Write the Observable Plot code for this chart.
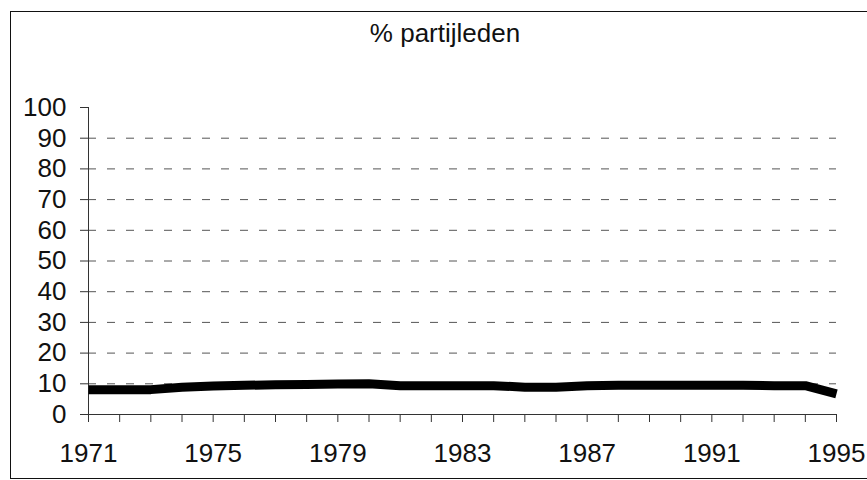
<!DOCTYPE html>
<html>
<head>
<meta charset="utf-8">
<script src="https://cdn.jsdelivr.net/npm/d3@7"></script>
<script src="https://cdn.jsdelivr.net/npm/@observablehq/plot@0.6"></script>
<style>
  html, body { margin: 0; padding: 0; background: #fff; }
  #wrap { position: relative; width: 867px; height: 480px; overflow: hidden; font-family: "Liberation Sans", Arial, sans-serif; }
  #frame { position: absolute; left: 10px; top: 11px; width: 860px; height: 468px; border: 1.5px solid #111; box-sizing: border-box; }
  #title { position: absolute; left: 0; top: 0; width: 890px; height: 50px; text-align: center; font-size: 26px; line-height: 66px; color: #111; }
  #chart { position: absolute; left: 0; top: 50px; }
</style>
</head>
<body>
<div id="wrap">
  <div id="frame"></div>
  <div id="title">% partijleden</div>
  <div id="chart"></div>
</div>
<script>
const years = [1971,1972,1973,1974,1975,1976,1977,1978,1979,1980,1981,1982,1983,1984,1985,1986,1987,1988,1989,1990,1991,1992,1993,1994,1995];
const values = [8.1,8.1,8.1,8.9,9.3,9.5,9.7,9.8,9.9,10.0,9.4,9.4,9.4,9.4,8.9,8.9,9.4,9.5,9.5,9.5,9.5,9.5,9.4,9.4,6.7];
const yTicks = [0,10,20,30,40,50,60,70,80,90,100];
const gridLevels = [10,20,30,40,50,60,70,80,90];
const labelYears = [1971,1975,1979,1983,1987,1991,1995];

const data = years.map((y, i) => ({year: y, value: values[i]}));

const chart = Plot.plot({
  width: 867,
  height: 430,
  marginLeft: 88,
  marginRight: 31,
  marginTop: 57,
  marginBottom: 66,
  style: {fontFamily: "'Liberation Sans', Arial, sans-serif", fontSize: "26px", color: "#111", background: "transparent"},
  x: {domain: [1971, 1995], label: null},
  y: {domain: [0, 100], label: null},
  marks: [
    Plot.ruleY(gridLevels, {x1: 1971, x2: 1995, stroke: "#555", strokeWidth: 1, strokeDasharray: "8,11"}),
    Plot.axisY(yTicks, {tickSize: 8, tickPadding: 14, tickFormat: d => String(d), stroke: "#333", fontSize: 26, label: null}),
    Plot.axisX(years, {tickSize: 8, tickPadding: 21, tickFormat: d => labelYears.includes(d) ? String(d) : "", stroke: "#333", fontSize: 26, label: null}),
    Plot.ruleX([1971], {y1: 0, y2: 100, stroke: "#333", strokeWidth: 1}),
    Plot.ruleY([0], {x1: 1971, x2: 1995, stroke: "#333", strokeWidth: 1}),
    Plot.line(data, {x: "year", y: "value", stroke: "#000", strokeWidth: 9, strokeLinecap: "butt", strokeLinejoin: "round"})
  ]
});
document.getElementById("chart").appendChild(chart);
</script>
</body>
</html>
